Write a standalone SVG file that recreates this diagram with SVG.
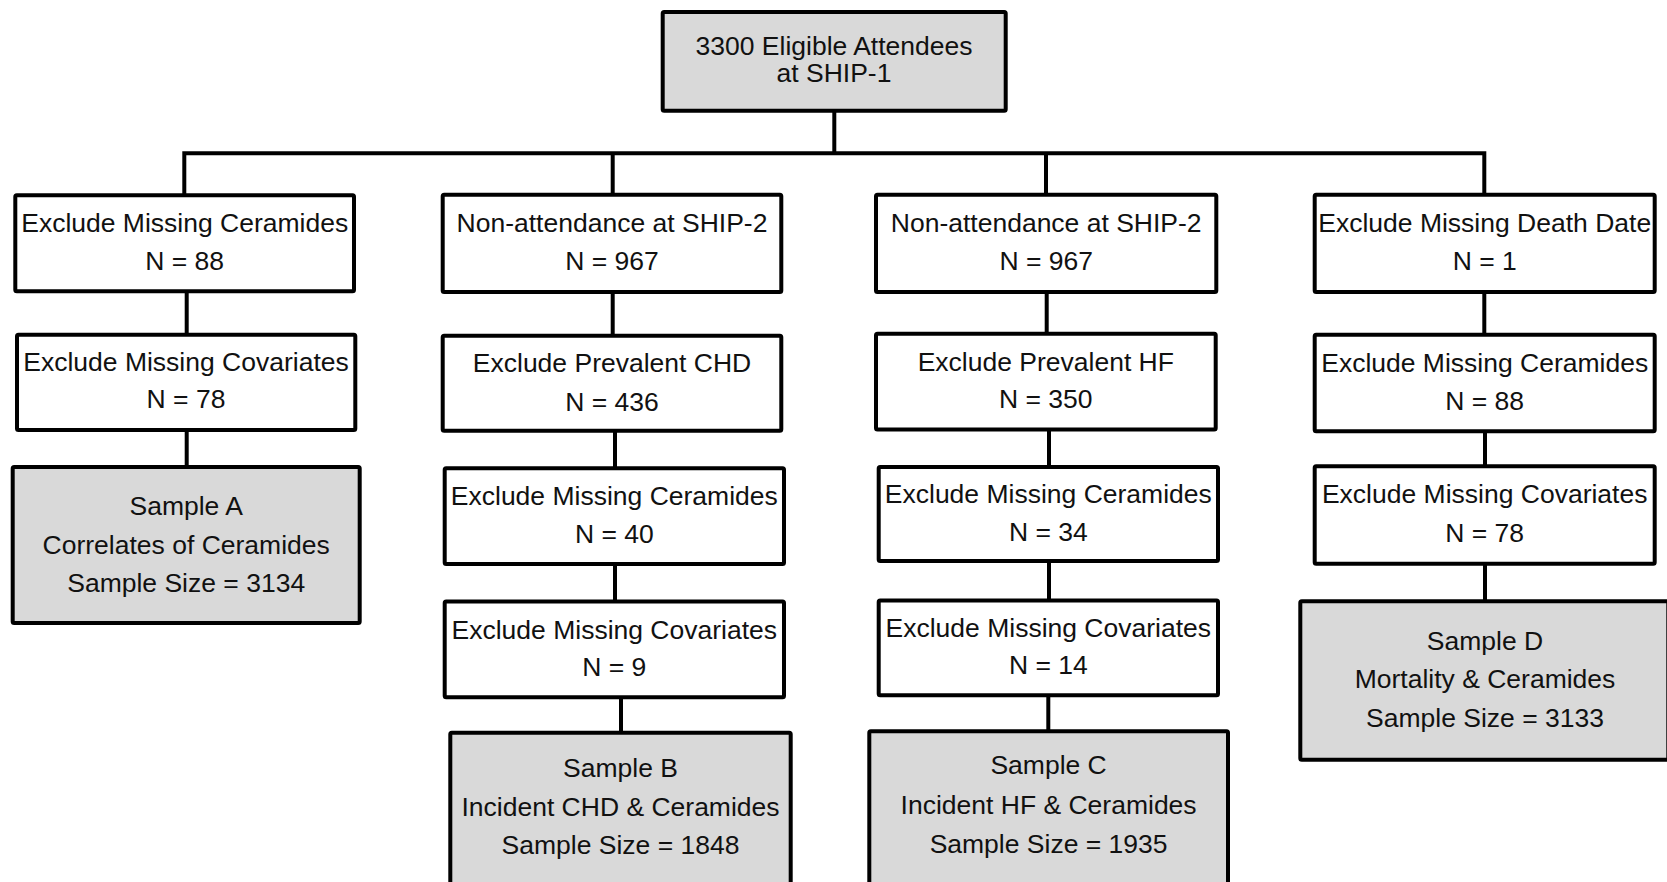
<svg xmlns="http://www.w3.org/2000/svg" width="1667" height="882" viewBox="0 0 1667 882">
<style>
.box{fill:#ffffff;stroke:#000000;stroke-width:4;}
.gray{fill:#d9d9d9;stroke:#000000;stroke-width:4;}
.t{font-family:"Liberation Sans",Arial,Helvetica,sans-serif;font-size:26.5px;fill:#111111;text-anchor:middle;}
.c{fill:none;stroke:#000000;stroke-width:4;}
</style>
<rect width="1667" height="882" fill="#ffffff"/>
<g id="connectors">
<path class="c" d="M834.3,110.7 V153.3"/>
<path class="c" d="M184.3,195.3 V153.3 H1484.3 V194.7"/>
<path class="c" d="M612.7,153.3 V194.7"/>
<path class="c" d="M1046,153.3 V194.7"/>
<path class="c" d="M186.7,291.3 V334.7"/>
<path class="c" d="M186.7,430 V467"/>
<path class="c" d="M612.7,292 V335.7"/>
<path class="c" d="M615,430.7 V468.2"/>
<path class="c" d="M615,564 V601.4"/>
<path class="c" d="M621,697.3 V732.7"/>
<path class="c" d="M1046.7,292 V333.8"/>
<path class="c" d="M1049,429.6 V467"/>
<path class="c" d="M1049,560.9 V600.6"/>
<path class="c" d="M1048.3,695.3 V731.3"/>
<path class="c" d="M1484.3,292 V334.7"/>
<path class="c" d="M1485,431.3 V466.3"/>
<path class="c" d="M1485,563.7 V601.3"/>
</g>
<g id="top">
<rect class="gray" x="662.7" y="12" width="343" height="98.7" rx="1.5"/>
<text class="t" x="834" y="55">3300 Eligible Attendees</text>
<text class="t" x="834" y="81.7">at SHIP-1</text>
</g>
<g id="a1">
<rect class="box" x="15.3" y="195.3" width="338.7" height="96" rx="1.5"/>
<text class="t" x="184.7" y="231.7">Exclude Missing Ceramides</text>
<text class="t" x="184.7" y="270">N = 88</text>
</g>
<g id="a2">
<rect class="box" x="17" y="334.7" width="338.3" height="95.3" rx="1.5"/>
<text class="t" x="186" y="370.7">Exclude Missing Covariates</text>
<text class="t" x="186" y="408.3">N = 78</text>
</g>
<g id="a3">
<rect class="gray" x="12.7" y="467" width="347" height="156" rx="1.5"/>
<text class="t" x="186.2" y="515">Sample A</text>
<text class="t" x="186.2" y="553.7">Correlates of Ceramides</text>
<text class="t" x="186.2" y="591.7">Sample Size = 3134</text>
</g>
<g id="b1">
<rect class="box" x="442.7" y="194.7" width="338.6" height="97.3" rx="1.5"/>
<text class="t" x="612" y="231.7">Non-attendance at SHIP-2</text>
<text class="t" x="612" y="270">N = 967</text>
</g>
<g id="b2">
<rect class="box" x="442.7" y="335.7" width="338.6" height="95" rx="1.5"/>
<text class="t" x="612" y="372.1">Exclude Prevalent CHD</text>
<text class="t" x="612" y="410.5">N = 436</text>
</g>
<g id="b3">
<rect class="box" x="444.7" y="468.2" width="339.3" height="95.8" rx="1.5"/>
<text class="t" x="614.3" y="504.6">Exclude Missing Ceramides</text>
<text class="t" x="614.3" y="543">N = 40</text>
</g>
<g id="b4">
<rect class="box" x="444.7" y="601.4" width="339.3" height="95.9" rx="1.5"/>
<text class="t" x="614.3" y="639">Exclude Missing Covariates</text>
<text class="t" x="614.3" y="676.2">N = 9</text>
</g>
<g id="b5">
<rect class="gray" x="450.3" y="732.7" width="340.4" height="160" rx="1.5"/>
<text class="t" x="620.5" y="777.3">Sample B</text>
<text class="t" x="620.5" y="816">Incident CHD &amp; Ceramides</text>
<text class="t" x="620.5" y="854">Sample Size = 1848</text>
</g>
<g id="c1">
<rect class="box" x="876" y="194.7" width="340.3" height="97.3" rx="1.5"/>
<text class="t" x="1046.2" y="231.7">Non-attendance at SHIP-2</text>
<text class="t" x="1046.2" y="270">N = 967</text>
</g>
<g id="c2">
<rect class="box" x="876" y="333.8" width="339.7" height="95.8" rx="1.5"/>
<text class="t" x="1045.8" y="371">Exclude Prevalent HF</text>
<text class="t" x="1045.8" y="407.8">N = 350</text>
</g>
<g id="c3">
<rect class="box" x="878.7" y="467" width="339.3" height="93.9" rx="1.5"/>
<text class="t" x="1048.3" y="502.6">Exclude Missing Ceramides</text>
<text class="t" x="1048.3" y="541">N = 34</text>
</g>
<g id="c4">
<rect class="box" x="878.7" y="600.6" width="339.3" height="94.7" rx="1.5"/>
<text class="t" x="1048.3" y="637">Exclude Missing Covariates</text>
<text class="t" x="1048.3" y="674.2">N = 14</text>
</g>
<g id="c5">
<rect class="gray" x="869.3" y="731.3" width="358.7" height="160" rx="1.5"/>
<text class="t" x="1048.6" y="774">Sample C</text>
<text class="t" x="1048.6" y="814">Incident HF &amp; Ceramides</text>
<text class="t" x="1048.6" y="852.7">Sample Size = 1935</text>
</g>
<g id="d1">
<rect class="box" x="1314.7" y="194.7" width="340" height="97.3" rx="1.5"/>
<text class="t" x="1484.7" y="231.7">Exclude Missing Death Date</text>
<text class="t" x="1484.7" y="270">N = 1</text>
</g>
<g id="d2">
<rect class="box" x="1314.7" y="334.7" width="340" height="96.6" rx="1.5"/>
<text class="t" x="1484.7" y="371.7">Exclude Missing Ceramides</text>
<text class="t" x="1484.7" y="410">N = 88</text>
</g>
<g id="d3">
<rect class="box" x="1314.7" y="466.3" width="340" height="97.4" rx="1.5"/>
<text class="t" x="1484.7" y="503.3">Exclude Missing Covariates</text>
<text class="t" x="1484.7" y="541.7">N = 78</text>
</g>
<g id="d4">
<rect class="gray" x="1300.3" y="601.3" width="368" height="158.4" rx="1.5"/>
<text class="t" x="1485" y="650">Sample D</text>
<text class="t" x="1485" y="688.3">Mortality &amp; Ceramides</text>
<text class="t" x="1485" y="726.7">Sample Size = 3133</text>
</g>
</svg>
